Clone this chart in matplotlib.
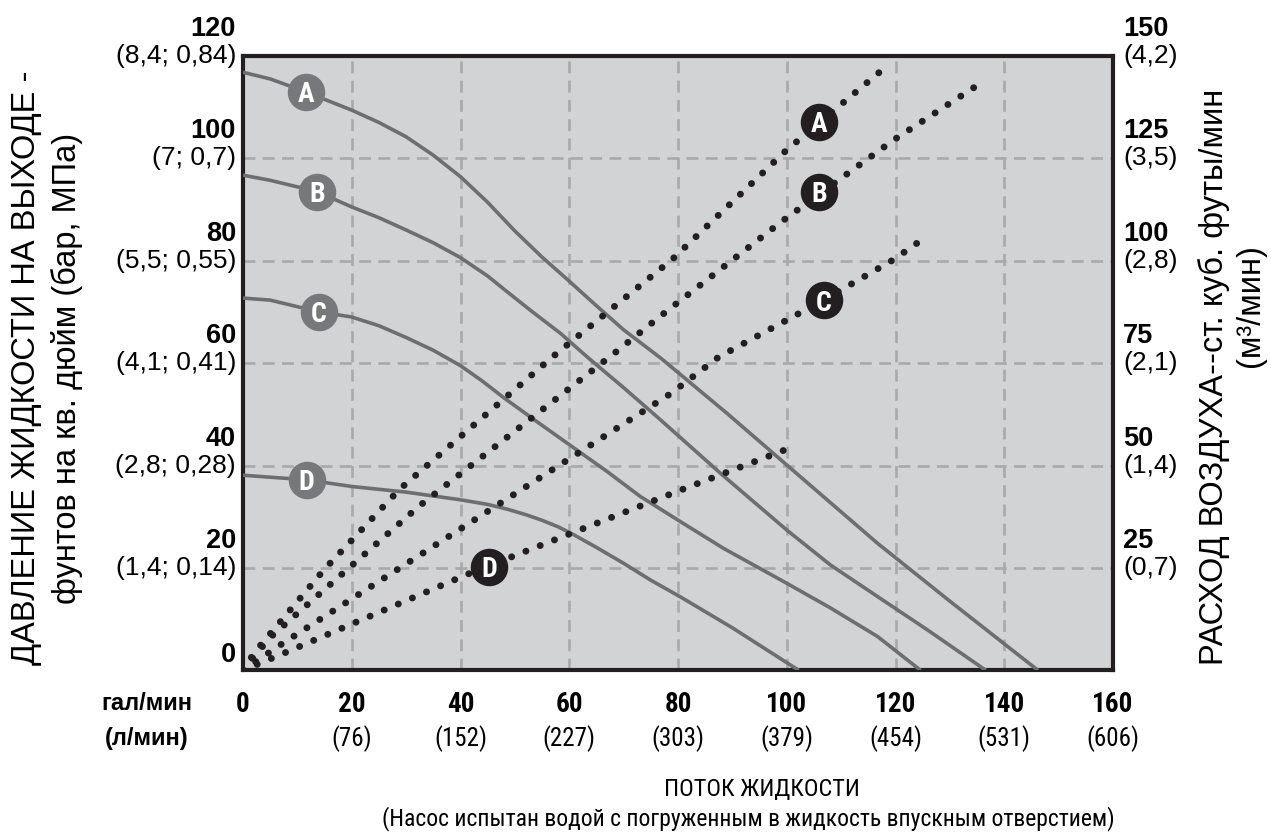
import matplotlib
matplotlib.use("Agg")
import matplotlib.pyplot as plt
from matplotlib import font_manager


def pick_font(*names):
    have = set(font_manager.get_font_names())
    for n in names:
        if n in have:
            return n
    return "DejaVu Sans"


REG = pick_font("Liberation Sans", "Arial")
NARROW = pick_font("Liberation Sans Narrow", "Arial Narrow", "Roboto Condensed", "Liberation Sans")

# оси
flow_ticks = [0, 20, 40, 60, 80, 100, 120, 140, 160]
flow_lpm = ["", "(76)", "(152)", "(227)", "(303)", "(379)", "(454)", "(531)", "(606)"]
psi_ticks = [0, 20, 40, 60, 80, 100, 120]
psi_sub = ["", "(1,4; 0,14)", "(2,8; 0,28)", "(4,1; 0,41)", "(5,5; 0,55)", "(7; 0,7)", "(8,4; 0,84)"]
air_ticks = [25, 50, 75, 100, 125, 150]
air_sub = ["(0,7)", "(1,4)", "(2,1)", "(2,8)", "(3,5)", "(4,2)"]

# давление жидкости (psi) от потока (гал/мин)
flow_A = [0, 5, 11.5, 20, 25, 30, 35, 40, 45, 50, 55, 60, 65, 70, 76.8, 89, 100, 116.7, 130, 146.2]
psi_A = [116.8, 115.5, 113, 109.4, 107, 104.2, 100.6, 96.4, 91.4, 85.8, 80.7, 76, 71.2, 66.5, 61,
         50.2, 40.1, 24.8, 13.5, 0]
flow_B = [0, 5, 13.6, 20, 25, 30, 35, 40, 45, 48.5, 53, 58.4, 63.3, 70, 76.8, 88, 100, 108, 116.7,
          126, 136.6]
psi_B = [96.7, 95.7, 93.5, 90.5, 88.4, 86, 83.5, 80.6, 77, 74, 70.2, 65.8, 61.2, 55.2, 48.9, 38.3,
         27.4, 20.6, 14.4, 7.8, 0]
flow_C = [0, 5, 14, 20, 25, 30, 35, 40, 44, 48, 54, 60.5, 67, 73, 80.5, 88.4, 100, 108, 116.7, 124.6]
psi_C = [72.7, 72.3, 70, 69, 67.3, 65, 62.5, 59.5, 56.5, 53.2, 48.6, 43.7, 38.8, 34, 29, 23.8, 17,
         12.2, 6.6, 0]
flow_D = [0, 11.7, 20, 30, 40, 45, 48.5, 52, 55, 58, 60.8, 65, 70, 75, 80.5, 90, 102.2]
psi_D = [38.1, 37.2, 35.9, 34.8, 33.3, 32.4, 31.5, 30.4, 29.3, 28, 26.5, 24, 20.9, 17.6, 14.3, 8.3, 0]

# расход воздуха (куб. футы/мин) от потока
air_flow_A = [0, 2.2, 15, 28.8, 57, 79, 99.8, 117.3]
air_A = [0, 4.5, 24.7, 44.2, 76.6, 100.4, 126.8, 146.3]
air_flow_B = [0, 4.8, 32.4, 68.1, 76.8, 99.2, 119.7, 136.3]
air_B = [0, 7.8, 40.1, 77.2, 86.5, 109.7, 129.5, 143.9]
air_flow_C = [0, 7.1, 59.5, 78.6, 87.5, 106.8, 119.7, 124.3]
air_C = [0, 6.4, 51.2, 67.5, 76.5, 90.4, 100.3, 104.6]
air_flow_D = [0, 7.4, 41.2, 80.5, 101.6]
air_D = [0, 4.1, 23.4, 44, 54.8]

letters = ["A", "B", "C", "D"]
psi_lbl_x = [11.5, 13.6, 14, 11.7]
psi_lbl_y = [113, 93.5, 70, 37.2]
air_lbl_x = [105.9, 105.9, 106.8, 45.3]
air_lbl_y = [133.9, 116.8, 90.4, 25.3]

BG = "#d1d3d4"
GRID = "#a7a9ac"
LINE = "#6d6e71"
INK = "#231f20"

fig = plt.figure(figsize=(12.71, 8.32), dpi=100)
ax = fig.add_axes([243 / 1271, 1 - 670.3 / 832, 870 / 1271, 614.4 / 832])
ax.set_facecolor(BG)
ax.set_xlim(0, 160)
ax.set_ylim(0, 120)
ax.set_xticks(flow_ticks)
ax.set_yticks(psi_ticks)
ax.tick_params(length=0, labelbottom=False, labelleft=False)
ax.grid(True, color=GRID, lw=1.9, ls=(0, (4.5, 2.8)))
ax.set_axisbelow(True)
for s in ax.spines.values():
    s.set_color(INK)
    s.set_linewidth(3)

for fx, py in [(flow_A, psi_A), (flow_B, psi_B), (flow_C, psi_C), (flow_D, psi_D)]:
    ax.plot(fx, py, color=LINE, lw=2.6, solid_joinstyle="round", solid_capstyle="butt", zorder=3)

ax2 = ax.twinx()
ax2.set_ylim(0, 150)
ax2.set_yticks([])
ax2.spines[:].set_visible(False)
for fx, ay in [(air_flow_A, air_A), (air_flow_B, air_B), (air_flow_C, air_C), (air_flow_D, air_D)]:
    ax2.plot(fx, ay, color=INK, lw=5.0, ls=(0, (0.01, 2.2)), dash_capstyle="round", zorder=4)

# кружки с буквами
for i, l in enumerate(letters):
    ax.plot(psi_lbl_x[i], psi_lbl_y[i], "o", ms=27, color="#77787b", mec="none", zorder=5)
    ax.text(psi_lbl_x[i], psi_lbl_y[i], l, color="white", fontsize=20, fontweight="bold",
            family=NARROW, ha="center", va="center_baseline", zorder=6)
    ax2.plot(air_lbl_x[i], air_lbl_y[i], "o", ms=27, color=INK, mec="none", zorder=5)
    ax2.text(air_lbl_x[i], air_lbl_y[i], l, color="white", fontsize=20, fontweight="bold",
             family=NARROW, ha="center", va="center_baseline", zorder=6)

px = 0.72  # points per pixel

# подписи слева
for v, sub in zip(psi_ticks, psi_sub):
    up = 27 if sub else 15
    ax.annotate(str(v), (0, v), xycoords=("axes fraction", "data"), xytext=(-7 * px, up * px),
                textcoords="offset points", ha="right", va="center", fontsize=19.5,
                fontweight="bold", family=REG)
    if sub:
        ax.annotate(sub, (0, v), xycoords=("axes fraction", "data"), xytext=(-7 * px, 0),
                    textcoords="offset points", ha="right", va="center", fontsize=19, family=REG)

# подписи справа
for v, sub in zip(air_ticks, air_sub):
    ax2.annotate(str(v), (1, v), xycoords=("axes fraction", "data"), xytext=(10 * px, 27 * px),
                 textcoords="offset points", ha="left", va="center", fontsize=19.5,
                 fontweight="bold", family=REG)
    ax2.annotate(sub, (1, v), xycoords=("axes fraction", "data"), xytext=(10 * px, 0),
                 textcoords="offset points", ha="left", va="center", fontsize=19, family=REG)

# подписи снизу
for v, sub in zip(flow_ticks, flow_lpm):
    ax.annotate(str(v), (v, 0), xycoords=("data", "axes fraction"), xytext=(0, -34 * px),
                textcoords="offset points", ha="center", va="center", fontsize=19.5,
                fontweight="bold", family=NARROW)
    if sub:
        ax.annotate(sub, (v, 0), xycoords=("data", "axes fraction"), xytext=(0, -68 * px),
                    textcoords="offset points", ha="center", va="center", fontsize=18, family=NARROW)

W, H = 1271, 832
fig.text(147 / W, 1 - 704 / H, "гал/мин", ha="center", va="center", fontsize=17,
         fontweight="bold", family=REG)
fig.text(147 / W, 1 - 738 / H, "(л/мин)", ha="center", va="center", fontsize=17,
         fontweight="bold", family=REG)
fig.text(762 / W, 1 - 790 / H, "ПОТОК ЖИДКОСТИ", ha="center", va="center", fontsize=17.5,
         family=NARROW)
fig.text(748 / W, 1 - 819 / H, "(Насос испытан водой с погруженным в жидкость впускным отверстием)",
         ha="center", va="center", fontsize=17, family=NARROW)

fig.text(27 / W, 1 - 368 / H, "ДАВЛЕНИЕ ЖИДКОСТИ НА ВЫХОДЕ -", rotation=90, ha="center",
         va="center", fontsize=23.5, family=REG)
fig.text(67 / W, 1 - 368 / H, "фунтов на кв. дюйм (бар, МПа)", rotation=90, ha="center",
         va="center", fontsize=23.5, family=REG)
fig.text(1214 / W, 1 - 377 / H, "РАСХОД ВОЗДУХА--ст. куб. футы/мин", rotation=90, ha="center",
         va="center", fontsize=23.5, family=REG)
fig.text(1250 / W, 1 - 306 / H, "(м³/мин)", rotation=90, ha="center",
         va="center", fontsize=23.5, family=REG)

fig.savefig("out.png", dpi=100)
